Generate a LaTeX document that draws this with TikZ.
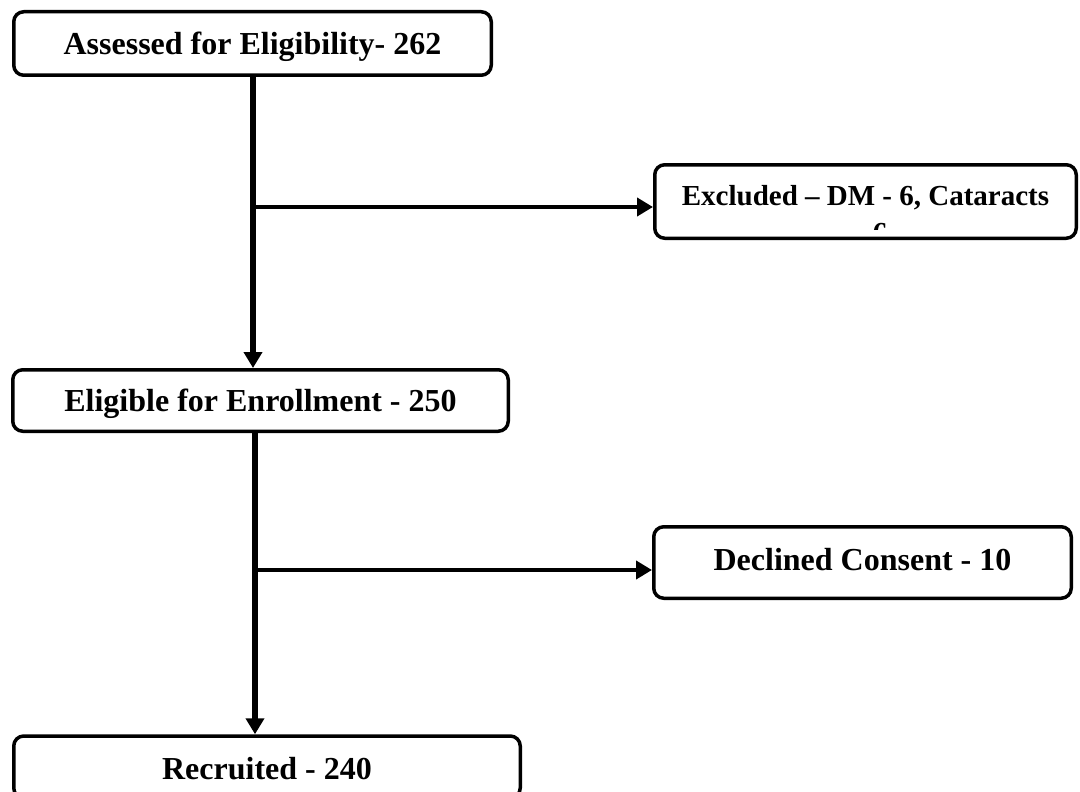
\documentclass[tikz,border=0pt]{standalone}
\usepackage{fontspec}
\setmainfont{Liberation Serif}
\usetikzlibrary{arrows.meta}
\begin{document}
\begin{tikzpicture}[x=1pt,y=-1pt,
  box/.style={draw,line width=3.5pt,rounded corners=10pt,inner sep=0pt,
    font=\fontsize{32}{38}\selectfont\bfseries,text height=21.5pt,text depth=0pt},
  vline/.style={line width=5.5pt,-{Triangle[length=16pt,width=18pt]}},
  hline/.style={line width=4.5pt,-{Triangle[length=16pt,width=18pt]}},
  lbl/.style={inner sep=0pt,font=\fontsize{29}{35}\selectfont\bfseries}]
\useasboundingbox (0,0) rectangle (1080,792);
\clip (0,0) rectangle (1080,792);
\node[box,minimum width=477.5pt,minimum height=63.5pt] (b1) at (252.5,43.5) {Assessed for Eligibility- 262};
\node[box,minimum width=421.5pt,minimum height=73.5pt,font=\fontsize{29}{35}\selectfont\bfseries,
  text height=19.5pt,text depth=12.5pt] (b2) at (865.5,201.5) {Excluded -- DM - 6, Cataracts};
\node[box,minimum width=495.5pt,minimum height=61.5pt] (b3) at (260.5,400.5) {Eligible for Enrollment - 250};
\node[box,minimum width=417.5pt,minimum height=71.5pt,text depth=6.5pt] (b4) at (862.5,562.5) {Declined Consent - 10};
\node[box,minimum width=506.5pt,minimum height=62pt,text height=24.5pt] (b5) at (267,767) {Recruited - 240};
\begin{scope}
  \clip (800,215) rectangle (960,229);
  \node[lbl,anchor=base] (six) at (880,242) {6};
\end{scope}
\coordinate (j1) at (253,207);
\coordinate (j2) at (255,570);
\draw[vline] (b1.south -| j1) -- (b3.north -| j1);
\draw[hline] (j1) -- (j1 -| b2.west);
\draw[vline] (b3.south -| j2) -- (b5.north -| j2);
\draw[hline] (j2) -- (j2 -| b4.west);
\end{tikzpicture}
\end{document}
